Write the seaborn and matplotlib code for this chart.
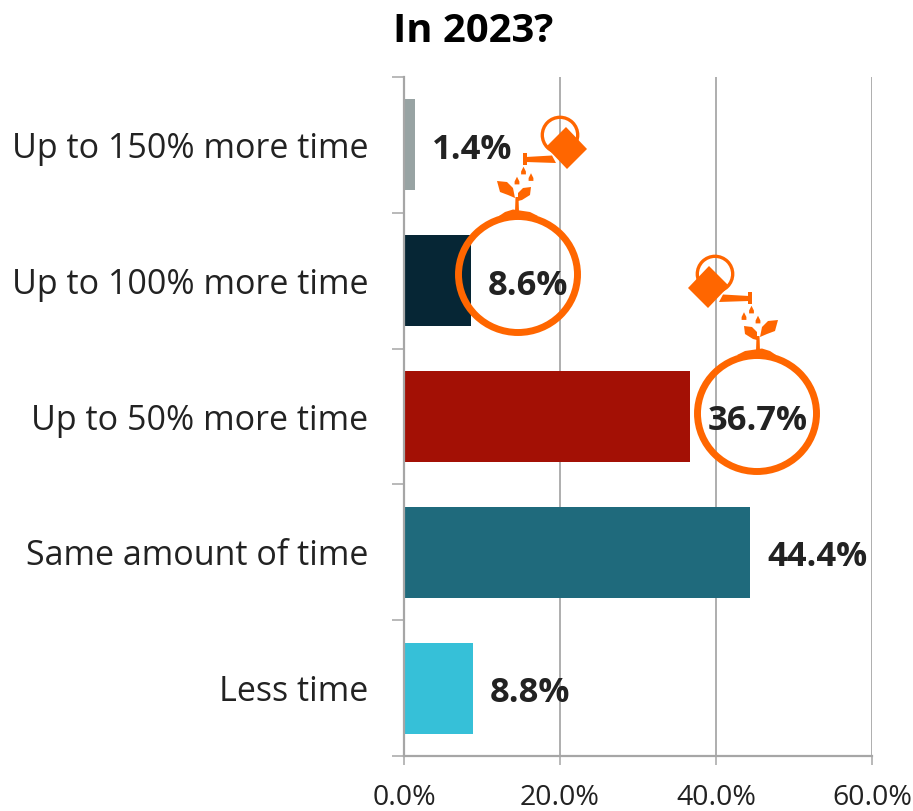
import matplotlib
matplotlib.use("Agg")
import matplotlib.pyplot as plt
import seaborn as sns
import pandas as pd
from matplotlib.patches import Circle, Polygon, Ellipse, PathPatch
from matplotlib.path import Path
from matplotlib.transforms import Affine2D

categories = ["Up to 150% more time", "Up to 100% more time", "Up to 50% more time",
              "Same amount of time", "Less time"]
values = [1.4, 8.6, 36.7, 44.4, 8.8]
bar_colors = ["#98A3A3", "#062635", "#A31005", "#1F6A7C", "#36C0D8"]
x_ticks = [0, 20, 40, 60]
title = "In 2023?"
ORANGE = "#FF6600"
GREY = "#A6A6A6"
TEXT = "#222222"

sns.set_theme(style="white")
plt.rcParams["font.family"] = ["Open Sans", "DejaVu Sans"]

W, H = 913, 811
fig = plt.figure(figsize=(W / 100, H / 100), dpi=100)
ax = fig.add_axes([404 / W, 1 - 756 / H, (872 - 404) / W, (756 - 77) / H])

df = pd.DataFrame({"category": categories, "value": values})
sns.barplot(data=df, x="value", y="category", hue="category", palette=bar_colors,
            order=categories, hue_order=categories, legend=False, width=0.67,
            saturation=1, dodge=False, ax=ax, zorder=3, linewidth=0)

ax.set_xlim(0, 60)
ax.set_ylim(len(categories) - 0.5, -0.5)
ax.set_xlabel("")
ax.set_ylabel("")
ax.set_xticks(x_ticks)
ax.set_xticklabels([f"{v:.1f}%" for v in x_ticks], fontsize=20.5, color=TEXT)
ax.set_yticks(range(len(categories)))
ax.set_yticklabels(categories, fontsize=24.5, color=TEXT)
ax.set_yticks([i - 0.5 for i in range(len(categories) + 1)], minor=True)
ax.tick_params(axis="y", which="major", length=0, pad=25.5)
ax.tick_params(axis="y", which="minor", length=8.6, width=1.1, color=GREY, left=True)
ax.tick_params(axis="x", which="major", length=6.5, width=1.1, color=GREY, bottom=True, pad=14)
ax.xaxis.grid(True, color="#999999", linewidth=1.1, zorder=1)
ax.yaxis.grid(False)
ax.set_axisbelow(True)
for s in ("top", "right"):
    ax.spines[s].set_visible(False)
for s in ("left", "bottom"):
    ax.spines[s].set_color(GREY)
    ax.spines[s].set_linewidth(1.6)
    ax.spines[s].set_zorder(5)

for container in ax.containers:
    for lab in ax.bar_label(container, fmt="%.1f%%", padding=12.2, fontsize=24.8,
                            fontweight="bold", color=TEXT, zorder=8):
        lab.xyann = (lab.xyann[0], -3.5)

fig.text(473 / W, 1 - 31 / H, title, ha="center", va="center", fontsize=28.8,
         fontweight="bold", color="#000000")


# Decorative icons, drawn in reference pixels (y down) then mapped to the figure
def to_fig(mirror=False):
    base = Affine2D()
    if mirror:
        base = base.scale(-1, 1).translate(1275, 139)
    return base + Affine2D().scale(1, -1).translate(0, H)


def drop(cx, cy, r=2.4):
    return Path([(cx, cy - 2.2 * r), (cx + r, cy - 0.2 * r), (cx + r, cy + r),
                 (cx - r, cy + r), (cx - r, cy - 0.2 * r), (cx, cy - 2.2 * r)],
                [1, 2, 2, 2, 2, 79])


def icon(mirror):
    tr = to_fig(mirror)
    add = lambda p: (p.set_transform(tr), p.set_clip_on(False), fig.add_artist(p))
    kw = dict(facecolor=ORANGE, edgecolor="none", zorder=10)
    # ring around the value
    add(Ellipse((518, 274.5), 119, 116, facecolor="none", edgecolor=ORANGE, linewidth=5, zorder=10))
    # can handle and body
    add(Circle((560, 135), 17.7, facecolor="none", edgecolor=ORANGE, linewidth=2.4, zorder=10))
    add(Polygon([(566, 127), (587, 149), (567, 169), (546, 147)], closed=True, **kw))
    # spout and rose
    add(Polygon([(526, 157), (552, 155.5), (556, 163), (526, 162)], closed=True, **kw))
    add(Polygon([(523, 153), (527, 153), (527, 165), (523, 165)], closed=True, **kw))
    # drops
    for c in [(523.5, 172), (517, 182), (531, 178.5)]:
        add(PathPatch(drop(*c), **kw))
    # leaves, stem and mound
    add(Polygon([(497, 181), (507, 182), (513, 188), (515, 198), (508, 195), (500, 192)], closed=True, **kw))
    add(Polygon([(531, 187), (530, 195), (522, 200), (518, 201), (518, 193), (523, 188)], closed=True, **kw))
    add(Polygon([(515.5, 197), (518.5, 197), (519, 212), (515, 212)], closed=True, **kw))
    add(Polygon([(499, 216), (505, 212), (513, 209.5), (530, 212), (538, 216)], closed=True, **kw))


icon(False)
icon(True)

fig.savefig("out.png", dpi=100, facecolor="white")
